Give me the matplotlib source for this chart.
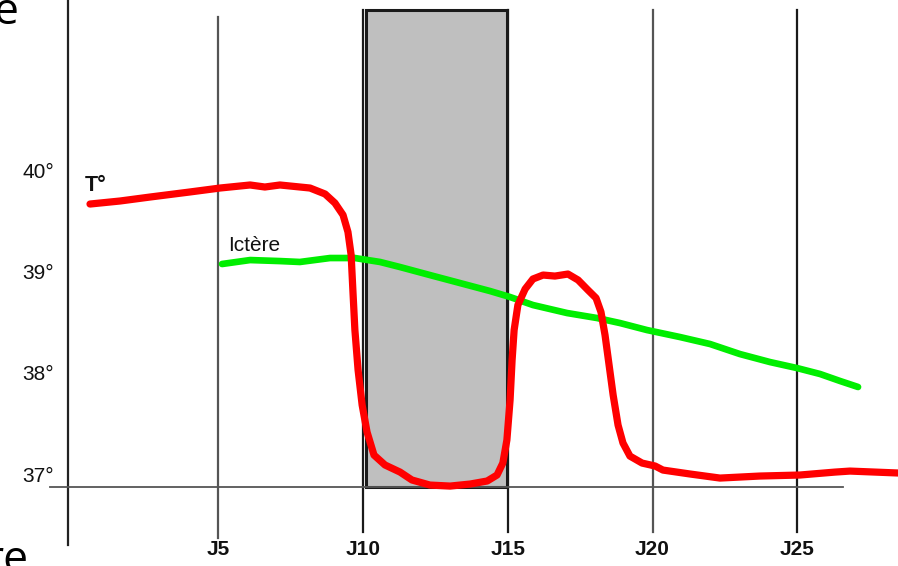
import matplotlib
matplotlib.use("Agg")
import matplotlib.pyplot as plt
from matplotlib.patches import Rectangle

# ---- data (day, temperature °C) ----
temp_days = [0.57, 1.61, 2.64, 4.02, 5.06, 6.10, 6.61, 7.13, 8.17, 8.69, 9.03, 9.31,
             9.48, 9.59, 9.65, 9.72, 9.83, 9.97, 10.14, 10.38, 10.76, 11.28, 11.69,
             12.31, 13.01, 13.70, 14.29, 14.63, 14.83, 14.97, 15.08, 15.15, 15.22,
             15.35, 15.60, 15.87, 16.22, 16.63, 17.08, 17.43, 17.77, 18.05, 18.22,
             18.36, 18.50, 18.64, 18.81, 18.98, 19.22, 19.64, 20.09, 20.36, 21.30,
             22.33, 23.71, 25.09, 26.30, 26.82, 28.48]
temp_values = [39.685, 39.715, 39.754, 39.804, 39.843, 39.873, 39.853, 39.873, 39.843,
               39.784, 39.695, 39.577, 39.409, 39.182, 38.836, 38.441, 38.046, 37.701,
               37.434, 37.207, 37.109, 37.039, 36.961, 36.911, 36.901, 36.921, 36.951,
               37.010, 37.128, 37.355, 37.750, 38.145, 38.441, 38.688, 38.846, 38.945,
               38.984, 38.974, 38.994, 38.935, 38.836, 38.757, 38.619, 38.392, 38.096,
               37.800, 37.503, 37.326, 37.197, 37.128, 37.099, 37.059, 37.020, 36.980,
               37.000, 37.010, 37.039, 37.049, 37.030]

icterus_days = [5.13, 6.10, 7.13, 7.82, 8.86, 9.72, 10.59, 11.28, 12.31, 13.35, 14.39,
                15.08, 15.87, 17.05, 18.08, 18.88, 19.81, 20.95, 21.99, 23.02, 24.06,
                24.99, 25.79, 26.48, 27.10]
icterus_values = [39.093, 39.132, 39.122, 39.113, 39.152, 39.152, 39.113, 39.063,
                  38.984, 38.905, 38.826, 38.767, 38.688, 38.609, 38.560, 38.510,
                  38.441, 38.372, 38.303, 38.204, 38.125, 38.066, 38.007, 37.938, 37.879]

day_ticks = [5, 10, 15, 20, 25]
day_labels = ["J5", "J10", "J15", "J20", "J25"]
temp_ticks = [40, 39, 38, 37]
temp_labels = ["40°", "39°", "38°", "37°"]
shade_start, shade_end = 10.1, 14.97

# ---- figure ----
fig = plt.figure(figsize=(8.98, 5.66), dpi=100)
ax = fig.add_axes([0, 0, 1, 1])
ax.set_xlim(-2.539, 28.48)
ax.set_ylim(36.112, 41.699)
ax.axis("off")

# shaded treatment period
ax.add_patch(Rectangle((shade_start, 36.891), shade_end - shade_start, 41.60 - 36.891,
                       facecolor="#bfbfbf", edgecolor="#1a1a1a", linewidth=2.2, zorder=1))

# y axis line
ax.plot([-0.19, -0.19], [36.319, 41.75], color="#222222", lw=1.6, zorder=2)
# day lines
for d in day_ticks:
    top = 41.53 if d == 5 else 41.60
    bottom = 36.388 if d == 5 else 36.447
    col = "#555555" if d in (5, 20) else "#1a1a1a"
    ax.plot([d, d], [bottom, top], color=col, lw=1.6, zorder=2)
# baseline
ax.plot([-0.81, 26.58], [36.891, 36.891], color="#555555", lw=1.3, zorder=2)

# curves
ax.plot(icterus_days, icterus_values, color="#00ee00", lw=4.8,
        solid_capstyle="round", solid_joinstyle="round", zorder=3)
ax.plot(temp_days, temp_values, color="#ff0000", lw=5.2,
        solid_capstyle="round", solid_joinstyle="round", zorder=4)

font = ["Liberation Sans", "DejaVu Sans"]
for t, lab in zip(temp_ticks, temp_labels):
    ax.text(-1.226, t, lab, ha="center", va="center", fontsize=15, family=font, color="#111111")
for d, lab in zip(day_ticks, day_labels):
    ax.text(d, 36.27, lab, ha="center", va="center", fontsize=15, family=font,
            fontweight="bold", color="#111111")

ax.text(0.38, 39.87, "T°", ha="left", va="center", fontsize=15.5, family=font,
        fontweight="bold", color="#111111")
ax.text(5.35, 39.28, "Ictère", ha="left", va="center", fontsize=15, family=font,
        color="#111111")

# slide text fragments
fig.text(19 / 898, 1 - 24 / 566, "e", ha="right", va="baseline", fontsize=32,
         family=["Open Sans", "DejaVu Sans"], color="black")
fig.text(28 / 898, 1 - 572 / 566, "re", ha="right", va="baseline", fontsize=32,
         family=["Open Sans", "DejaVu Sans"], color="black")

fig.savefig("out.png", dpi=100)
